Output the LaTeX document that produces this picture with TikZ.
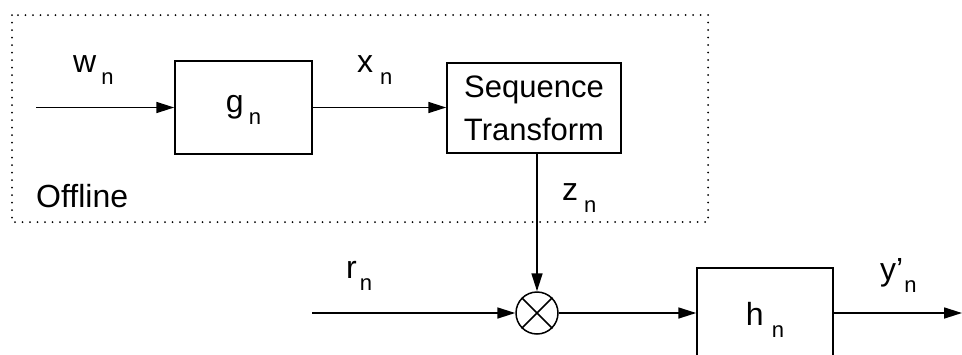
\documentclass[tikz,border=0pt]{standalone}
\usepackage{fontspec}
\setmainfont{Liberation Sans}
\usetikzlibrary{arrows.meta}
\newcommand{\sbn}[2][5pt]{\hspace{#1}\raisebox{-12pt}{\fontsize{22}{22}\selectfont #2}}
\begin{document}
\begin{tikzpicture}[x=1pt,y=-1pt,
  blockbox/.style={draw,line width=1.5pt,inner sep=0pt,font=\fontsize{32}{38}\selectfont},
  sig/.style={line width=1.7pt,-{Triangle[length=18pt,width=11pt]}},
  lbl/.style={inner sep=0pt,anchor=base west,font=\fontsize{32}{38}\selectfont},
  offbox/.style={line width=2pt,line cap=round,dash pattern=on 0pt off 7.5pt}]
\useasboundingbox (0,0) rectangle (962,354);
\clip (0,0) rectangle (962,354);
% offline region
\draw[offbox] (12,15) rectangle (708,222);
% blocks
\node[blockbox,minimum width=137pt,minimum height=93pt,text height=17pt,text depth=8pt] (g) at (243.5,107.5) {g\sbn{n}};
\node[blockbox,minimum width=174pt,minimum height=90pt,align=center,font=\fontsize{31}{43}\selectfont] (seq) at (534,108) {Sequence\\Transform};
\node[draw,circle,line width=1.5pt,minimum size=42pt,inner sep=0pt] (mult) at (537,313) {};
\draw[line width=1.5pt] (mult.north east) -- (mult.south west) (mult.north west) -- (mult.south east);
\node[blockbox,minimum width=136pt,minimum height=90pt,text height=30pt,text depth=6pt] (h) at (765,313) {h\sbn[8pt]{n}};
% free ends
\coordinate (win) at (36,107.5);
\coordinate (rin) at (312,313);
\coordinate (yout) at (962,313);
% connectors
\draw[sig] (win) -- (g.west);
\draw[sig] (g.east) -- (seq.west |- g.east);
\draw[sig] (mult |- seq.south) -- (mult.north);
\draw[sig] (rin) -- (mult.west);
\draw[sig] (mult.east) -- (h.west);
\draw[sig] (h.east) -- (yout);
% labels
\node[lbl] (wl) at (73,72) {w\sbn{n}};
\node[lbl] (xl) at (357,72) {x\sbn[7pt]{n}};
\node[lbl] (zl) at (562,200) {z\sbn[6pt]{n}};
\node[lbl] (rl) at (346,278) {r\sbn[3pt]{n}};
\node[lbl] (yl) at (880,280) {y’\sbn[1pt]{n}};
\node[lbl] (off) at (36,207) {Offline};
\end{tikzpicture}
\end{document}
